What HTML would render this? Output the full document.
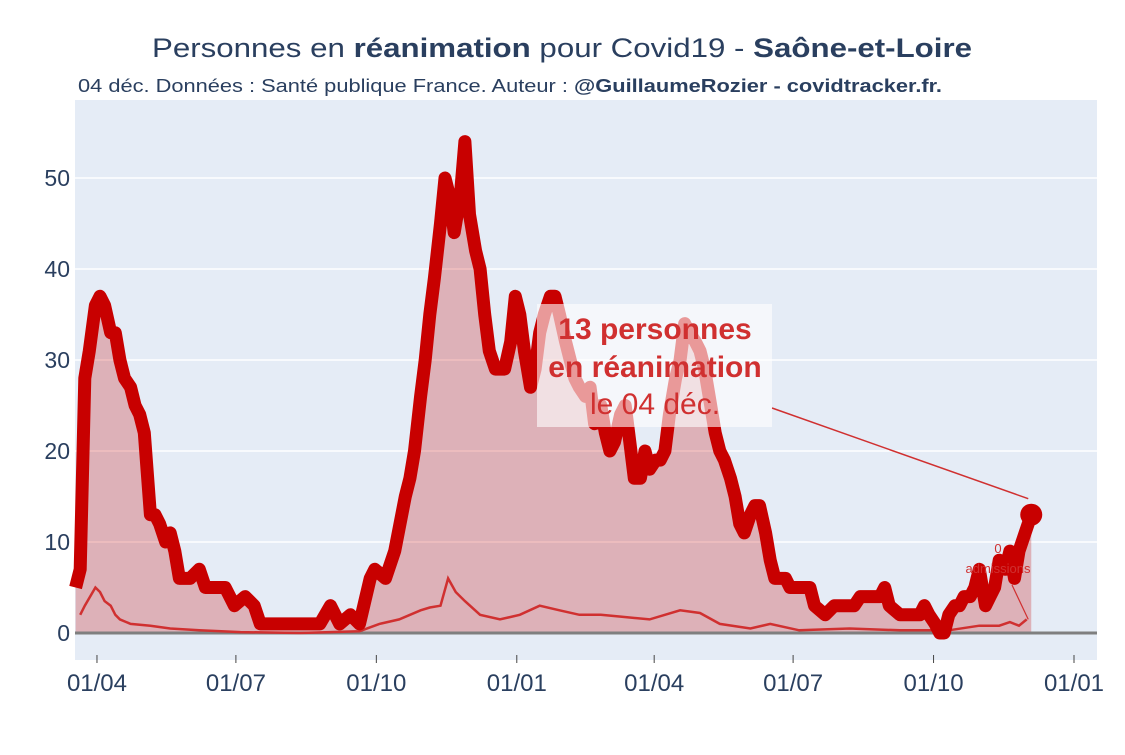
<!DOCTYPE html>
<html><head><meta charset="utf-8"><style>
body{margin:0;background:#fff;font-family:"Liberation Sans","DejaVu Sans",sans-serif}
svg text{font-family:"Liberation Sans","DejaVu Sans",sans-serif}
</style></head><body>
<svg id="chart" width="1125" height="750" xmlns="http://www.w3.org/2000/svg">
<rect width="1125" height="750" fill="#fff"/>
<text x="152" y="57" textLength="820" lengthAdjust="spacingAndGlyphs" font-size="27" fill="#2a3f5f">Personnes en <tspan font-weight="bold">réanimation</tspan> pour Covid19 - <tspan font-weight="bold">Saône-et-Loire</tspan></text>
<text x="78" y="92" textLength="864" lengthAdjust="spacingAndGlyphs" font-size="18" fill="#2a3f5f">04 déc. Données : Santé publique France. Auteur : <tspan font-weight="bold">@GuillaumeRozier - covidtracker.fr.</tspan></text>
<rect x="75" y="100" width="1022" height="560" fill="#e5ecf6"/>
<g id="grid"></g><g id="series"></g><g id="axes"></g><g id="annot"></g>
</svg>
<script>
const icuDays=[0,3,6,9,13,16,19,23,26,29,32,36,39,42,45,49,52,55,59,62,65,68,75,81,85,91,98,104,111,117,121,160,167,173,180,186,193,196,203,209,216,219,222,226,229,232,235,239,242,245,248,252,255,258,262,265,268,271,275,278,281,285,288,291,294,298,301,304,307,311,314,317,321,324,327,330,334,337,340,344,347,350,353,357,360,363,366,370,373,376,380,383,386,389,393,396,399,402,406,409,412,416,419,422,425,429,432,435,438,442,445,448,452,455,458,461,465,468,474,481,484,491,497,504,510,514,520,527,530,533,540,546,553,556,559,563,566,569,572,576,579,582,586,589,592,596,599,602,605,609,612,615,618,622,626];
const icuValues=[5,7,28,31,36,37,36,33,33,30,28,27,25,24,22,13,13,12,10,11,9,6,6,7,5,5,5,3,4,3,1,1,3,1,2,1,6,7,6,9,15,17,20,26,30,35,39,45,50,48,44,48,54,46,42,40,35,31,29,29,29,32,37,35,31,27,29,33,35,37,37,35,32,30,28,27,26,27,23,25,22,20,21,24,25,21,17,17,20,18,19,19,20,24,28,30,34,33,32,31,29,25,22,20,19,17,15,12,11,13,14,14,11,8,6,6,6,5,5,5,3,2,3,3,3,4,4,4,5,3,2,2,2,3,2,1,0,0,2,3,3,4,4,5,7,3,4,5,8,7,9,6,9,11,13];
const admDays=[3,6,13,16,19,23,26,29,36,49,62,81,108,147,186,199,212,226,232,239,244,249,255,265,278,291,304,317,330,344,357,376,396,409,422,442,455,474,507,540,572,592,605,612,618,623];
const admValues=[2,3,5,4.5,3.5,3,2,1.5,1,0.8,0.5,0.3,0.1,0,0.2,1,1.5,2.5,2.8,3,6,4.5,3.5,2,1.5,2,3,2.5,2,2,1.8,1.5,2.5,2.2,1,0.5,1,0.3,0.5,0.3,0.3,0.8,0.8,1.2,0.8,1.5];
const yTicks=[0,10,20,30,40,50];
const xTickLabels=["01/04","01/07","01/10","01/01","01/04","01/07","01/10","01/01"];
const xTickDays=[14,105,197,289,379,470,562,654];
const NS="http://www.w3.org/2000/svg";
const X=d=>75.6+d*1.5266, Y=v=>633-v*9.1;
function mk(parent,tag,attrs){const e=document.createElementNS(NS,tag);for(const k in attrs)e.setAttribute(k,attrs[k]);document.getElementById(parent).appendChild(e);return e;}
yTicks.forEach(t=>{
 if(t>0){const g=mk('grid','line',{x1:75,x2:1097,y1:Y(t),y2:Y(t),stroke:'#fff','stroke-width':1.5});
 
 }
 const l=mk('axes','text',{x:70,y:Y(t)+8,'text-anchor':'end','font-size':23,fill:'#2a3f5f'});l.textContent=t;
 
 
});
xTickDays.forEach((d,i)=>{
 const tk=mk('axes','line',{x1:X(d),x2:X(d),y1:655,y2:663,stroke:'#444','stroke-width':1});
 
 
 const l=mk('axes','text',{x:X(d),y:691,'text-anchor':'middle','font-size':24,fill:'#2a3f5f'});l.textContent=xTickLabels[i];
 
 
});
let pts=icuDays.map((d,i)=>X(d).toFixed(1)+','+Y(icuValues[i]).toFixed(1));
const area=mk('series','path',{d:'M'+X(icuDays[0])+','+Y(0)+' L'+pts.join(' L')+' L'+X(icuDays[icuDays.length-1])+','+Y(0)+'Z',fill:'rgba(200,0,0,0.25)'});


const zl=mk('series','line',{x1:75,x2:1097,y1:Y(0),y2:Y(0),stroke:'#7f7f7f','stroke-width':3});


const adm=mk('series','polyline',{points:admDays.map((d,i)=>X(d).toFixed(1)+','+Y(admValues[i]).toFixed(1)).join(' '),fill:'none',stroke:'#d03030','stroke-width':2.5});


const icu=mk('series','polyline',{points:pts.join(' '),fill:'none',stroke:'#c80000','stroke-width':13,'stroke-linejoin':'round'});


const lx=X(icuDays[icuDays.length-1]), ly=Y(icuValues[icuValues.length-1]);
const dot=mk('series','circle',{cx:lx,cy:ly,r:11,fill:'#c80000'});


const al=mk('annot','line',{x1:772,y1:408,x2:lx-3,y2:ly-16,stroke:'#d03030','stroke-width':1.5});


const box=mk('annot','rect',{x:537,y:304,width:235,height:123,fill:'rgba(255,255,255,0.6)'});


[["13 personnes",339,'bold'],["en réanimation",377,'bold'],["le 04 déc.",414,'normal']].forEach(a=>{
 const t=mk('annot','text',{x:655,y:a[1],'text-anchor':'middle','font-size':30,'font-weight':a[2],fill:'#d03030'});t.textContent=a[0];
 
 
});
const al2=mk('annot','line',{x1:1012,y1:585,x2:lx-3,y2:Y(admValues[admValues.length-1]),stroke:'#d03030','stroke-width':1.2});


[["0",553],["admissions",573]].forEach(a=>{
 const t=mk('annot','text',{x:998,y:a[1],'text-anchor':'middle','font-size':13,fill:'#d03030'});t.textContent=a[0];
 
 
});
</script>
</body></html>
